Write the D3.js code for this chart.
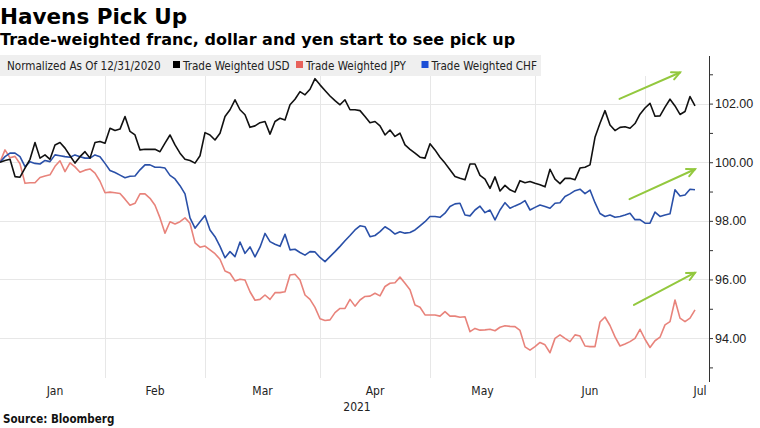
<!DOCTYPE html>
<html><head><meta charset="utf-8">
<script src="https://cdn.jsdelivr.net/npm/d3@7"></script>
<style>
html,body{margin:0;padding:0;background:#fff;}
svg{display:block;}
text{font-family:"DejaVu Sans Condensed","DejaVu Sans",sans-serif;}
</style></head><body>
<svg id="chart" width="760" height="428"></svg>
<script>
// ---- data ----
const seriesNames = ["Trade Weighted USD", "Trade Weighted JPY", "Trade Weighted CHF"];
const legendNote = "Normalized As Of 12/31/2020";
const monthLabels = ["Jan","Feb","Mar","Apr","May","Jun","Jul"];
const yearLabel = "2021";
const yTicks = [94, 96, 98, 100, 102];
const yMinorTicks = [93, 95, 97, 99, 101, 103];

const usd = [100.00,100.06,100.10,99.51,99.49,99.80,100.10,100.67,100.14,100.25,
100.10,100.59,100.67,100.48,100.22,99.97,100.19,100.36,100.14,100.67,
100.71,100.65,101.16,101.08,101.13,101.56,101.05,100.93,100.42,100.44,
100.44,100.44,100.36,100.65,100.93,100.59,100.31,100.10,100.06,99.97,
100.22,101.01,100.93,100.76,100.99,101.56,101.79,102.13,101.79,101.62,
101.19,101.24,101.35,101.39,100.96,101.39,101.50,101.44,101.96,102.15,
102.41,102.30,102.49,102.85,102.64,102.45,102.26,102.10,101.96,102.13,
101.79,101.79,101.76,101.56,101.35,101.39,101.24,100.93,101.10,100.88,
100.99,100.59,100.44,100.31,100.17,100.14,100.63,100.42,100.17,99.97,
99.74,99.51,99.45,99.40,99.94,99.94,99.55,99.42,99.11,99.50,
99.02,99.21,99.06,98.98,99.37,99.30,99.34,99.28,99.23,99.16,
99.76,99.42,99.27,99.45,99.45,99.40,99.80,99.83,99.91,100.85,
101.33,101.76,101.27,101.08,101.19,101.21,101.16,101.32,101.64,101.85,
102.01,101.57,101.58,101.88,102.15,101.92,101.63,101.73,102.24,101.92];

const jpy = [100.00,100.42,100.15,100.20,99.95,99.28,99.30,99.30,99.48,99.53,
99.57,99.86,100.05,99.68,99.98,99.84,99.66,99.73,99.77,99.63,
99.35,98.96,98.98,98.96,98.93,98.74,98.53,98.60,98.92,98.92,
98.77,98.53,98.10,97.58,97.97,97.89,97.97,98.10,97.92,97.25,
97.10,97.14,97.01,96.88,96.69,96.29,96.21,95.95,96.01,95.98,
95.58,95.29,95.32,95.47,95.32,95.55,95.55,95.58,96.15,96.18,
95.98,95.47,95.32,95.05,94.66,94.60,94.62,94.87,95.01,95.01,
95.32,95.09,95.30,95.42,95.43,95.53,95.44,95.76,95.87,95.89,
96.08,95.87,95.65,95.13,95.05,94.79,94.79,94.79,94.75,94.90,
94.75,94.75,94.71,94.73,94.22,94.33,94.27,94.28,94.30,94.25,
94.37,94.42,94.40,94.39,94.26,93.70,93.59,93.71,93.85,93.77,
93.50,93.99,94.11,93.99,93.88,94.11,94.07,93.73,93.71,93.71,
94.55,94.72,94.43,94.04,93.73,93.80,93.88,93.99,94.30,93.96,
93.68,93.91,94.03,94.45,94.56,95.30,94.68,94.56,94.68,94.96];

const chf = [100.00,100.19,100.31,100.31,100.19,99.85,100.02,99.96,99.94,100.06,
100.02,100.25,100.22,100.19,100.17,100.25,100.19,100.14,100.14,100.25,
100.19,99.96,99.72,99.65,99.56,99.47,99.52,99.53,99.74,99.91,
99.91,99.83,99.83,99.80,99.55,99.43,99.20,98.92,98.10,97.75,
97.97,98.18,97.69,97.46,97.13,96.74,96.95,96.78,97.28,96.89,
97.11,96.77,97.10,97.57,97.29,97.20,97.13,97.54,97.01,97.03,
96.92,96.83,96.95,96.94,96.75,96.61,96.78,96.95,97.13,97.32,
97.50,97.69,97.83,97.80,97.46,97.50,97.63,97.80,97.69,97.55,
97.63,97.58,97.60,97.69,97.83,97.97,98.15,98.15,98.12,98.26,
98.49,98.58,98.60,98.20,98.17,98.37,98.50,98.28,98.37,98.03,
98.37,98.62,98.43,98.51,98.58,98.69,98.37,98.46,98.54,98.49,
98.43,98.60,98.62,98.83,98.92,99.03,99.08,98.93,99.05,98.62,
98.25,98.15,98.20,98.12,98.15,98.20,98.26,98.04,98.04,97.92,
97.92,98.30,98.15,98.20,98.24,99.06,98.85,98.88,99.08,99.06];

// annotation arrows (in data space: trading-day index, value)
const arrows = [
  {x1:123.9, v1:102.16, x2:136.0, v2:103.06},
  {x1:125.9, v1:98.74,  x2:139.0, v2:99.76},
  {x1:126.8, v1:95.13,  x2:139.0, v2:96.23}
];

const colors = {usd:"#111111", jpy:"#e8837b", chf:"#2a50a8"};
const legendColors = ["#000000", "#e8625b", "#1d4fd6"];

// ---- trading-day calendar (weekdays, Jan 1 closed) ----
const days = [];
for (let d = new Date(2020,11,31); d <= new Date(2021,6,31); d.setDate(d.getDate()+1)) {
  const wd = d.getDay();
  if (wd === 0 || wd === 6) continue;
  if (d.getMonth() === 0 && d.getDate() === 1) continue;
  days.push(new Date(d));
}
// month starts within 2021 (index of first trading day of each month), plus end
const starts = [];
days.forEach((d,i)=>{
  if (d.getFullYear() === 2021 && (i === 0 || d.getMonth() !== days[i-1].getMonth())) starts.push(i);
});
starts.push(days.length);   // end of July
// starts: [Jan, Feb, Mar, Apr, May, Jun, Jul, end]

// ---- layout ----
const svg = d3.select("#chart");
const plot = {left:0, right:709, top:74, bottom:380};

const x = d3.scaleLinear().domain([0, 141.8]).range([plot.left, plot.right]);
const y = d3.scaleLinear().domain([92.57, 103.01]).range([plot.bottom, plot.top]);

// titles
svg.append("text").attr("x",0).attr("y",24)
  .style("font-family","'DejaVu Sans',sans-serif").style("font-weight","bold").style("font-size","21.5px")
  .text("Havens Pick Up");
svg.append("text").attr("x",0).attr("y",45)
  .style("font-family","'DejaVu Sans',sans-serif").style("font-weight","bold").style("font-size","16px")
  .text("Trade-weighted franc, dollar and yen start to see pick up");

// legend bar
svg.append("rect").attr("x",0).attr("y",55).attr("width",541).attr("height",21).attr("fill","#efefef");
const lg = svg.append("g").style("font-size","11.6px").attr("fill","#222");
lg.append("text").attr("x",7).attr("y",69.5).text(legendNote);
const legX = [173, 296, 421.5];
seriesNames.forEach((n,k)=>{
  lg.append("rect").attr("x",legX[k]).attr("y",61).attr("width",7).attr("height",7).attr("fill",legendColors[k]);
  lg.append("text").attr("x",legX[k]+10).attr("y",69.5).text(n);
});

// grid
const grid = svg.append("g").attr("stroke","#e7e7e7").attr("stroke-width",1);
yTicks.forEach(t=>{
  grid.append("line").attr("x1",plot.left).attr("x2",plot.right)
    .attr("y1",Math.round(y(t))+0.5).attr("y2",Math.round(y(t))+0.5);
});
starts.slice(1).filter(i=>x(i) < plot.right).forEach(i=>{
  grid.append("line").attr("x1",Math.round(x(i))+0.5).attr("x2",Math.round(x(i))+0.5)
    .attr("y1",plot.top+2).attr("y2",plot.bottom-2);
});

// right axis
const axisG = svg.append("g").attr("transform",`translate(${plot.right},0)`);
axisG.append("line").attr("x1",0.5).attr("x2",0.5).attr("y1",56).attr("y2",382).attr("stroke","#333");
const yAxis = d3.axisRight(y).tickValues(yTicks).tickFormat(d3.format(".2f")).tickSize(4).tickPadding(2);
const ya = axisG.append("g").call(yAxis);
ya.select(".domain").remove();
ya.selectAll("line").attr("stroke","#333");
ya.selectAll("text").style("font-family","'Liberation Sans',Arial,sans-serif").style("font-size","12.5px").attr("fill","#222");
const yMinor = d3.axisRight(y).tickValues(yMinorTicks).tickFormat("").tickSize(4);
const ym = axisG.append("g").call(yMinor);
ym.select(".domain").remove();
ym.selectAll("line").attr("stroke","#333");

// x labels (centered in each month)
const xl = svg.append("g").style("font-size","12px").attr("fill","#222").attr("text-anchor","middle");
monthLabels.forEach((m,k)=>{
  const mid = (starts[k] + starts[k+1]) / 2;
  xl.append("text").attr("x",x(mid)).attr("y",395).text(m);
});
xl.append("text").attr("x",x(71.4)).attr("y",411).text(yearLabel);

// source
svg.append("text").attr("x",3).attr("y",423)
  .style("font-weight","bold").style("font-size","11.5px").attr("fill","#111")
  .text("Source: Bloomberg");

// lines
const line = d3.line().x((d,i)=>x(i)).y(d=>y(d));
[[jpy,colors.jpy],[chf,colors.chf],[usd,colors.usd]].forEach(([s,c])=>{
  svg.append("path").datum(s).attr("d",line).attr("fill","none")
    .attr("stroke",c).attr("stroke-width",1.6).attr("stroke-linejoin","round");
});

// arrows
const ag = svg.append("g").attr("stroke","#93c83e").attr("stroke-width",2).attr("fill","none").attr("stroke-linecap","round");
arrows.forEach(a=>{
  const X1=x(a.x1), Y1=y(a.v1), X2=x(a.x2), Y2=y(a.v2);
  ag.append("line").attr("x1",X1).attr("y1",Y1).attr("x2",X2).attr("y2",Y2);
  const ang = Math.atan2(Y2-Y1, X2-X1), L=9, spread=0.45;
  const p1 = [X2 - L*Math.cos(ang-spread), Y2 - L*Math.sin(ang-spread)];
  const p2 = [X2 - L*Math.cos(ang+spread), Y2 - L*Math.sin(ang+spread)];
  ag.append("path").attr("d",`M${p1[0]},${p1[1]}L${X2},${Y2}L${p2[0]},${p2[1]}`);
});
</script>
</body></html>
